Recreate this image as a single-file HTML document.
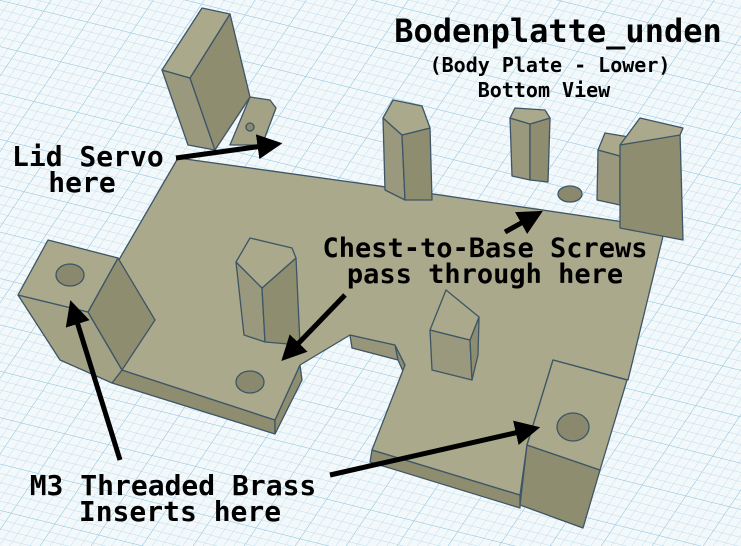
<!DOCTYPE html>
<html><head><meta charset="utf-8"><style>
html,body{margin:0;padding:0;width:741px;height:546px;overflow:hidden;background:#f4f9fc}
svg{display:block}
text{font-family:"DejaVu Sans Mono","Liberation Mono",monospace;fill:#000;font-weight:bold}
</style></head><body>
<svg width="741" height="546" viewBox="0 0 741 546" xmlns="http://www.w3.org/2000/svg">
<defs>
<pattern id="g" width="9" height="9" patternUnits="userSpaceOnUse" patternTransform="rotate(14) skewX(-20)">
<rect width="9" height="9" fill="#f3f8fb"/>
<path d="M0 0H9M0 0V9" stroke="#b8dbea" stroke-width="0.8"/>
</pattern>
<pattern id="G" width="45" height="45" patternUnits="userSpaceOnUse" patternTransform="rotate(14) skewX(-20)">
<path d="M0 0H45M0 0V45" stroke="#8fc6de" stroke-width="1"/>
</pattern>
<marker id="ah" markerWidth="5" markerHeight="5" refX="2.5" refY="2.5" orient="auto" markerUnits="strokeWidth">
<path d="M0 0L5 2.5L0 5z" fill="#000"/>
</marker>
</defs>
<rect width="741" height="546" fill="url(#g)"/>
<rect width="741" height="546" fill="url(#G)"/>
<g stroke="#3d5566" stroke-width="1.3" stroke-linejoin="round">
<polygon points="122,370 275,420 275,434 112,383" fill="#8e8d70"/>
<polygon points="275,420 300,365 302,380 275,434" fill="#8e8d70"/>
<polygon points="372,450 520,495 520,508 370,462" fill="#8e8d70"/>
<polygon points="395,345 405,365 407,380 398,360" fill="#8e8d70"/>
<polygon points="350,335 395,345 398,360 352,348" fill="#97967a"/>
<polygon points="85,315 120,258 178,158 372,185 665,228 628,380 553,360 527,445 520,495 372,450 405,365 395,345 350,335 300,365 275,420 122,370" fill="#aaa98b"/>
<polygon points="527,445 600,470 583,528 520,505" fill="#8e8d70"/>
<polygon points="553,360 627,380 600,470 527,445" fill="#aaa98b"/>
<ellipse cx="573" cy="427" rx="16" ry="14" fill="#8a896d"/>
<polygon points="18,295 88,312 122,370 112,383 60,360" fill="#a3a285"/>
<polygon points="88,312 118,258 155,320 122,370" fill="#8e8d70"/>
<polygon points="18,295 48,240 118,258 88,312" fill="#aaa98b"/>
<ellipse cx="70" cy="275" rx="14" ry="11" fill="#8a896d"/>
<ellipse cx="250" cy="382" rx="14" ry="11" fill="#8a896d"/>
<ellipse cx="570" cy="194" rx="12" ry="8" fill="#8a896d"/>
<polygon points="250,97 270,100 276,108 262,145 230,145" fill="#a3a285"/>
<polygon points="162,70 190,78 215,150 188,145" fill="#9a997d"/>
<polygon points="190,78 230,14 250,97 215,150" fill="#8e8d70"/>
<polygon points="162,70 202,8 230,14 190,78" fill="#aaa98b"/>
<ellipse cx="250" cy="127" rx="4" ry="4" fill="#8a896d"/>
<polygon points="383,118 402,135 405,200 385,190" fill="#9a997d"/>
<polygon points="402,135 430,128 432,200 405,200" fill="#8e8d70"/>
<polygon points="383,118 393,100 422,106 430,128 402,135" fill="#aaa98b"/>
<polygon points="510,118 530,124 530,180 512,176" fill="#9a997d"/>
<polygon points="530,124 550,118 548,182 530,180" fill="#8e8d70"/>
<polygon points="510,118 515,108 545,110 550,118 530,124" fill="#aaa98b"/>
<polygon points="598,150 620,156 620,205 597,200" fill="#9a997d"/>
<polygon points="598,150 605,133 635,138 620,156" fill="#aaa98b"/>
<polygon points="620,145 680,132 683,240 620,228" fill="#8e8d70"/>
<polygon points="620,145 640,118 683,128 680,135" fill="#aaa98b"/>
<polygon points="236,262 262,288 265,342 244,335" fill="#9a997d"/>
<polygon points="262,288 296,258 300,345 265,342" fill="#8e8d70"/>
<polygon points="236,262 250,238 292,248 296,258 262,288" fill="#aaa98b"/>
<polygon points="430,330 470,340 472,380 432,370" fill="#9a997d"/>
<polygon points="470,340 479,317 478,355 472,380" fill="#8e8d70"/>
<polygon points="430,330 446,290 479,317 470,340" fill="#aaa98b"/>
</g>
<g stroke="#000" stroke-width="5" fill="none">
<line x1="176" y1="158" x2="270" y2="145" marker-end="url(#ah)"/>
<line x1="345" y1="295" x2="290" y2="352" marker-end="url(#ah)"/>
<line x1="505" y1="232" x2="532" y2="217" marker-end="url(#ah)"/>
<line x1="120" y1="460" x2="74" y2="312" marker-end="url(#ah)"/>
<line x1="330" y1="475" x2="528" y2="430" marker-end="url(#ah)"/>
</g>
<text x="558" y="42" font-size="32" text-anchor="middle">Bodenplatte_unden</text>
<text x="550" y="72" font-size="20" text-anchor="middle">(Body Plate - Lower)</text>
<text x="544" y="97" font-size="20" text-anchor="middle">Bottom View</text>
<text x="12" y="166" font-size="28">Lid Servo</text>
<text x="82" y="192" font-size="28" text-anchor="middle">here</text>
<text x="485" y="257" font-size="27" text-anchor="middle">Chest-to-Base Screws</text>
<text x="485" y="283" font-size="27" text-anchor="middle">pass through here</text>
<text x="173" y="495" font-size="28" text-anchor="middle">M3 Threaded Brass</text>
<text x="180" y="521" font-size="28" text-anchor="middle">Inserts here</text>
</svg>
</body></html>
